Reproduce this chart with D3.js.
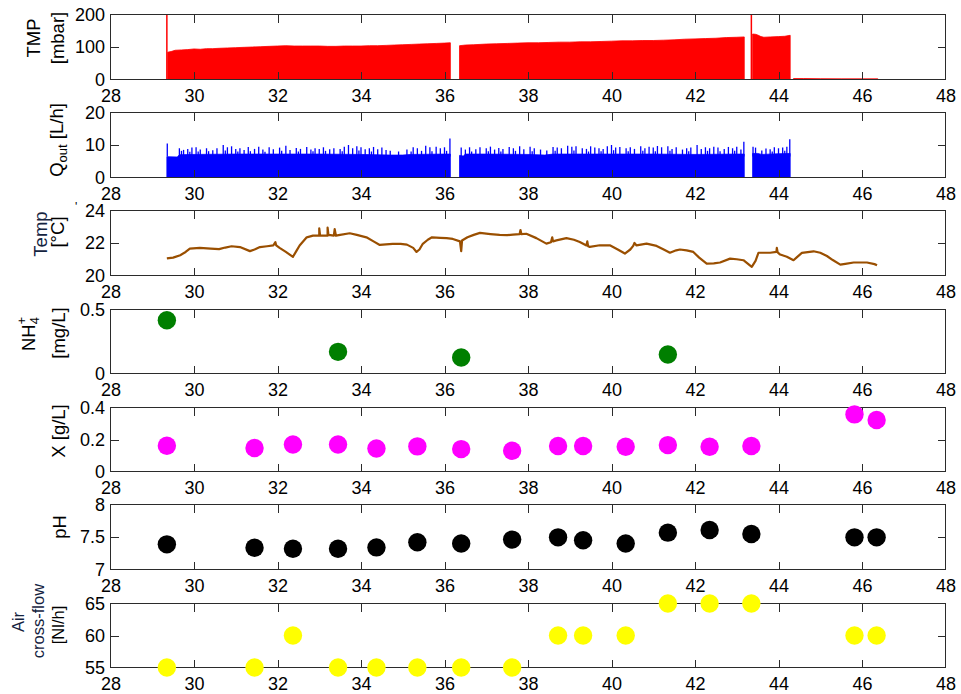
<!DOCTYPE html>
<html><head><meta charset="utf-8">
<script src="https://cdn.jsdelivr.net/npm/d3@7"></script>
<style>
body{margin:0;background:#fff}
svg{display:block;font-family:Arial,"Liberation Sans",Helvetica,sans-serif}
</style>
</head><body><svg id="c" width="961" height="694"></svg>
<script>
// ---------- data ----------
const xTicks = [28,30,32,34,36,38,40,42,44,46,48];
const xTickLabels = ["28","30","32","34","36","38","40","42","44","46","48"];

const tmpTicks = [0,100,200],   tmpTickLabels = ["0","100","200"];
const qTicks = [0,10,20],       qTickLabels = ["0","10","20"];
const tempTicks = [20,22,24],   tempTickLabels = ["20","22","24"];
const nhTicks = [0,0.5],        nhTickLabels = ["0","0.5"];
const xbTicks = [0,0.2,0.4],    xbTickLabels = ["0","0.2","0.4"];
const phTicks = [7,7.5,8],      phTickLabels = ["7","7.5","8"];
const airTicks = [55,60,65],    airTickLabels = ["55","60","65"];

// TMP [mbar]
const tmpSeg1 = [[29.37,84],[29.45,86],[29.55,90],[29.7,91],[29.85,92],[30.0,94],[30.15,93],[30.3,95],[30.45,95],[30.6,96],[30.8,97],[31.0,98],[31.2,99],[31.4,100],[31.6,101],[31.8,102],[32.0,103],[32.2,104],[32.4,103],[32.6,103],[32.8,103],[33.0,103],[33.2,102],[33.4,102],[33.6,103],[33.8,103],[34.0,103],[34.2,104],[34.4,104],[34.6,105],[34.8,106],[35.0,107],[35.2,108],[35.4,109],[35.6,110],[35.8,111],[36.0,112],[36.14,113]];
const tmpSeg2 = [[36.36,104],[36.5,106],[36.7,107],[37.0,109],[37.25,110],[37.5,111],[37.75,112],[38.0,113],[38.25,113],[38.5,114],[38.75,115],[39.0,115],[39.25,116],[39.5,116],[39.75,117],[40.0,118],[40.25,119],[40.5,119],[40.75,120],[41.0,120],[41.25,121],[41.5,122],[41.75,124],[42.0,125],[42.25,126],[42.5,127],[42.75,129],[43.0,130],[43.18,131]];
const tmpSeg3 = [[43.38,140],[43.45,139],[43.5,137],[43.58,132],[43.65,130],[43.8,131],[44.0,132],[44.15,133],[44.28,136]];
const tmpSeg4 = [[44.36,3],[44.6,3],[45.0,2.5],[45.5,2],[46.0,2],[46.38,2]];
const tmpSpikes = [[29.35,200],[43.35,200]];

// Q_out [L/h]
const qBase1 = [[29.35,6.4],[29.6,6.3],[29.65,7.0],[30.0,7.1],[31.0,7.2],[32.0,7.2],[33.0,7.2],[34.0,7.1],[34.7,6.9],[35.0,6.9],[35.2,7.1],[36.0,7.2],[36.14,7.2]];
const qBase2 = [[36.36,6.8],[36.45,6.6],[36.5,7.2],[37.0,7.2],[38.0,7.1],[38.4,6.9],[38.6,7.2],[40.0,7.2],[41.0,7.2],[42.0,7.1],[43.0,7.2],[43.18,7.2]];
const qBase3 = [[43.38,7.4],[43.5,7.4],[43.6,7.1],[44.0,7.3],[44.28,7.4]];
const qSpikes = [[29.36,10.5],[29.65,9.0],[29.7,8.2],[29.75,8.5],[29.85,8.8],[29.9,7.9],[29.95,9.2],[30.05,9.3],[30.1,8.0],[30.15,8.6],[30.3,9.0],[30.35,8.1],[30.45,8.4],[30.55,9.0],[30.7,10.0],[30.75,8.3],[30.8,9.3],[30.9,9.6],[31.0,8.8],[31.05,8.0],[31.1,9.0],[31.2,8.5],[31.3,9.4],[31.35,8.1],[31.45,8.8],[31.55,9.5],[31.65,8.6],[31.7,7.9],[31.8,9.3],[31.9,8.7],[32.05,9.2],[32.1,8.2],[32.2,9.8],[32.3,8.5],[32.45,9.1],[32.5,8.0],[32.55,8.8],[32.7,9.4],[32.8,8.6],[32.85,8.1],[32.9,9.0],[33.0,8.8],[33.1,9.3],[33.15,8.2],[33.25,8.7],[33.35,9.0],[33.5,8.8],[33.55,8.1],[33.6,9.5],[33.7,10.0],[33.8,9.0],[33.9,9.6],[33.95,8.3],[34.0,9.3],[34.1,8.7],[34.2,9.0],[34.25,8.0],[34.3,9.4],[34.4,8.7],[34.5,9.2],[34.6,8.5],[34.7,8.2],[34.9,8.0],[35.1,8.6],[35.2,8.0],[35.25,9.3],[35.35,9.0],[35.45,8.2],[35.55,9.8],[35.65,9.3],[35.7,8.1],[35.8,9.5],[35.9,9.0],[36.0,9.3],[36.05,8.2],[36.13,12.0],
  [36.4,9.2],[36.5,8.6],[36.6,9.3],[36.65,8.0],[36.75,8.7],[36.85,9.3],[37.0,9.0],[37.05,8.1],[37.1,9.5],[37.2,8.6],[37.3,9.1],[37.35,8.0],[37.4,8.8],[37.55,9.4],[37.65,9.0],[37.7,8.2],[37.8,9.6],[37.9,8.7],[38.05,9.5],[38.1,8.1],[38.15,9.0],[38.3,8.6],[38.45,8.3],[38.6,9.4],[38.65,8.2],[38.7,9.2],[38.8,9.0],[38.95,9.8],[39.05,9.5],[39.1,8.3],[39.15,9.6],[39.3,9.0],[39.4,8.8],[39.45,8.0],[39.5,9.6],[39.6,9.2],[39.7,9.0],[39.75,8.1],[39.8,8.8],[39.9,9.6],[40.0,10.0],[40.05,8.4],[40.1,9.2],[40.2,9.4],[40.35,9.0],[40.4,8.1],[40.45,9.3],[40.55,8.8],[40.7,9.6],[40.75,8.2],[40.8,9.0],[40.9,9.5],[41.0,9.2],[41.05,8.1],[41.1,9.7],[41.2,9.3],[41.35,9.6],[41.4,8.2],[41.45,8.8],[41.55,9.3],[41.7,8.6],[41.8,9.0],[41.85,8.1],[41.9,9.2],[42.05,10.0],[42.15,8.8],[42.25,9.3],[42.3,8.2],[42.35,9.0],[42.45,9.5],[42.55,9.2],[42.6,8.1],[42.7,8.8],[42.8,9.4],[42.9,9.0],[42.95,8.2],[43.0,9.5],[43.1,8.6],[43.17,11.0],
  [43.39,9.5],[43.45,9.2],[43.6,8.3],[43.7,8.9],[43.8,8.7],[43.85,8.0],[43.9,9.3],[44.0,9.0],[44.1,9.2],[44.15,8.2],[44.2,9.5],[44.27,11.8]];

// Temp [°C]
const tempData = [[29.35,21.05],[29.5,21.1],[29.67,21.25],[29.8,21.45],[29.9,21.65],[30.14,21.7],[30.4,21.65],[30.6,21.62],[30.75,21.72],[30.9,21.8],[31.1,21.75],[31.34,21.5],[31.45,21.6],[31.58,21.75],[31.75,21.8],[31.9,21.85],[31.95,22.05],[31.97,21.85],[32.05,21.7],[32.2,21.45],[32.37,21.15],[32.45,21.5],[32.53,21.85],[32.7,22.35],[32.85,22.45],[33.0,22.45],[33.0,22.9],[33.02,22.45],[33.2,22.45],[33.2,22.95],[33.22,22.5],[33.35,22.45],[33.37,22.85],[33.4,22.45],[33.5,22.5],[33.73,22.6],[33.9,22.5],[34.13,22.35],[34.3,22.1],[34.45,21.88],[34.6,21.92],[34.76,21.95],[34.95,21.95],[35.1,21.9],[35.25,21.7],[35.33,21.45],[35.4,21.6],[35.48,21.95],[35.6,22.2],[35.7,22.35],[35.9,22.32],[36.05,22.3],[36.2,22.25],[36.37,22.1],[36.4,21.5],[36.42,22.15],[36.55,22.35],[36.7,22.5],[36.85,22.62],[37.1,22.55],[37.32,22.5],[37.5,22.48],[37.64,22.52],[37.8,22.55],[37.82,22.8],[37.84,22.55],[37.96,22.57],[38.2,22.3],[38.44,21.96],[38.55,22.05],[38.58,22.35],[38.6,22.1],[38.68,22.16],[38.92,22.3],[39.1,22.2],[39.24,22.06],[39.4,21.85],[39.42,22.1],[39.44,21.8],[39.48,21.76],[39.72,21.86],[39.96,21.86],[40.15,21.6],[40.32,21.35],[40.45,21.6],[40.52,21.82],[40.55,22.0],[40.6,21.85],[40.84,21.96],[41.08,21.82],[41.25,21.6],[41.4,21.4],[41.55,21.55],[41.64,21.6],[41.8,21.55],[41.96,21.45],[42.1,21.1],[42.28,20.73],[42.45,20.75],[42.6,20.8],[42.84,21.04],[43.0,21.0],[43.16,20.94],[43.3,20.65],[43.36,20.53],[43.45,20.9],[43.52,21.4],[43.8,21.4],[43.95,21.45],[43.96,21.7],[43.98,21.42],[44.04,21.29],[44.2,21.15],[44.36,20.94],[44.45,21.15],[44.56,21.39],[44.84,21.49],[45.0,21.4],[45.16,21.2],[45.3,20.95],[45.48,20.67],[45.6,20.72],[45.8,20.8],[46.12,20.8],[46.3,20.7],[46.36,20.63]];

// sampling days
const nhDays = [29.35,33.45,36.4,41.35];
const nhVals = [0.416,0.169,0.125,0.148];
const xbDays = [29.35,31.45,32.37,33.45,34.37,35.35,36.4,37.62,38.72,39.32,40.34,41.35,42.35,43.35,45.82,46.35];
const xbVals = [0.161,0.147,0.169,0.169,0.144,0.157,0.140,0.130,0.159,0.159,0.155,0.165,0.155,0.159,0.357,0.322];
const phDays = [29.35,31.45,32.37,33.45,34.37,35.35,36.4,37.62,38.72,39.32,40.34,41.35,42.35,43.35,45.82,46.35];
const phVals = [7.387,7.334,7.32,7.32,7.34,7.42,7.40,7.46,7.495,7.45,7.40,7.567,7.608,7.546,7.495,7.495];
const airDays = [29.35,31.45,32.37,33.45,34.37,35.35,36.4,37.62,38.72,39.32,40.34,41.35,42.35,43.35,45.82,46.35];
const airVals = [55,55,60,55,55,55,55,55,60,60,60,65,65,65,60,60];

// ---------- layout ----------
const svg = d3.select("#c");
const left = 110.5, right = 945.5;
const tops = [14.5,112.5,210.5,309.5,407.5,504.5,603.5];
const bots = [79.5,177.5,275.5,373.5,471.5,569.5,667.5];
const FS = 18;     // tick labels
const LS = 18.5;   // axis labels
const x = d3.scaleLinear().domain([28,48]).range([left,right]);

const panels = [
  {dom:[0,200],  ticks:tmpTicks,  labels:tmpTickLabels},
  {dom:[0,20],   ticks:qTicks,    labels:qTickLabels},
  {dom:[20,24],  ticks:tempTicks, labels:tempTickLabels},
  {dom:[0,0.5],  ticks:nhTicks,   labels:nhTickLabels},
  {dom:[0,0.4],  ticks:xbTicks,   labels:xbTickLabels},
  {dom:[7,8],    ticks:phTicks,   labels:phTickLabels},
  {dom:[55,65],  ticks:airTicks,  labels:airTickLabels}
];
const ys = panels.map((p,i)=>d3.scaleLinear().domain(p.dom).range([bots[i],tops[i]]));

const gData = svg.append("g");
const gAxes = svg.append("g");
const gMarks = svg.append("g");

// ---------- data drawing ----------
const yT = ys[0];
const tmpArea = d3.area().x(d=>x(d[0])).y0(yT(0)).y1(d=>yT(d[1]));
[tmpSeg1,tmpSeg2,tmpSeg3,tmpSeg4].forEach(seg=>{
  gData.append("path").attr("d",tmpArea(seg)).attr("fill","#ff0000").attr("stroke","#ff0000").attr("stroke-width",0.8);
});
gData.selectAll(".tspk").data(tmpSpikes).join("line")
  .attr("x1",d=>x(d[0])).attr("x2",d=>x(d[0])).attr("y1",yT(0)).attr("y2",d=>yT(d[1]))
  .attr("stroke","#ff0000").attr("stroke-width",1.5);

const yQ = ys[1];
const qArea = d3.area().x(d=>x(d[0])).y0(yQ(0)).y1(d=>yQ(d[1]));
[qBase1,qBase2,qBase3].forEach(seg=>{
  gData.append("path").attr("d",qArea(seg)).attr("fill","#0000ff").attr("stroke","#0000ff").attr("stroke-width",0.8);
});
gData.selectAll(".qspk").data(qSpikes).join("line")
  .attr("x1",d=>x(d[0])).attr("x2",d=>x(d[0])).attr("y1",yQ(6.5)).attr("y2",d=>yQ(d[1]))
  .attr("stroke","#0000ff").attr("stroke-width",1.3);

const yTe = ys[2];
gData.append("path").attr("d",d3.line().x(d=>x(d[0])).y(d=>yTe(d[1]))(tempData))
  .attr("fill","none").attr("stroke","#9a4f00").attr("stroke-width",2.2).attr("stroke-linejoin","round");

// ---------- axes ----------
panels.forEach((p,i)=>{
  const y = ys[i];
  const g = gAxes.append("g");
  g.append("rect").attr("x",left).attr("y",tops[i]).attr("width",right-left).attr("height",bots[i]-tops[i])
    .attr("fill","none").attr("stroke","#2b2b2b").attr("stroke-width",1).attr("shape-rendering","crispEdges");
  const inner = xTicks.slice(1,-1);
  const ab = d3.axisBottom(x).tickValues(xTicks).tickFormat((d,k)=>xTickLabels[k]).tickSizeInner(-8).tickSizeOuter(0).tickPadding(9.3);
  const gb = g.append("g").attr("transform",`translate(0,${bots[i]})`).call(ab);
  const at = d3.axisTop(x).tickValues(inner).tickFormat("").tickSizeInner(-8).tickSizeOuter(0);
  const gt = g.append("g").attr("transform",`translate(0,${tops[i]})`).call(at);
  const yin = p.ticks.filter(t=>t!==p.dom[0] && t!==p.dom[1]);
  const al = d3.axisLeft(y).tickValues(p.ticks).tickFormat((d,k)=>p.labels[k]).tickSizeInner(-8).tickSizeOuter(0).tickPadding(5.5);
  const gl = g.append("g").attr("transform",`translate(${left},0)`).call(al);
  const ar = d3.axisRight(y).tickValues(yin).tickFormat("").tickSizeInner(-8).tickSizeOuter(0);
  const gr = g.append("g").attr("transform",`translate(${right},0)`).call(ar);
  [gb,gt,gl,gr].forEach(a=>{
    a.select(".domain").remove();
    a.selectAll("line").attr("stroke","#2b2b2b").attr("shape-rendering","crispEdges");
    a.selectAll("text").attr("fill","#000").style("font-size",FS+"px").style("font-family",'Arial,"Liberation Sans",sans-serif');
  });
  gl.selectAll(".tick").filter(d=>d===p.dom[0]||d===p.dom[1]).select("line").remove();
  gb.selectAll(".tick").filter(d=>d===28||d===48).select("line").remove();
});

// ---------- markers ----------
const R = 9.2;
function dots(days, vals, y, color){
  gMarks.append("g").selectAll("circle").data(days.map((d,k)=>[d,vals[k]])).join("circle")
    .attr("cx",d=>x(d[0])).attr("cy",d=>y(d[1])).attr("r",R).attr("fill",color);
}
dots(nhDays, nhVals, ys[3], "#007f00");
dots(xbDays, xbVals, ys[4], "#ff00ff");
dots(phDays, phVals, ys[5], "#000000");
dots(airDays, airVals, ys[6], "#ffff00");

// ---------- y labels ----------
function vlabel(xb, yc, fs, color){
  return svg.append("text").attr("transform",`translate(${xb},${yc}) rotate(-90)`)
    .attr("text-anchor","middle").style("font-size",fs+"px").attr("fill",color);
}
vlabel(40,38,LS,"#000").text("TMP");
vlabel(63.5,38,LS,"#000").text("[mbar]");
{ const t = vlabel(63,140,LS,"#000");
  t.append("tspan").text("Q");
  t.append("tspan").attr("dy",4).style("font-size","13px").text("out");
  t.append("tspan").attr("dy",-4).text(" [L/h]"); }
vlabel(47,234,LS,"#14233f").text("Temp");
vlabel(63.5,232,LS,"#000").text("[°C]");
svg.append("text").attr("x",75).attr("y",211).style("font-size","12px").attr("fill","#000").text("'");
{ const t = vlabel(35,334,LS,"#000");
  t.append("tspan").text("NH");
  t.append("tspan").attr("dy",4).style("font-size","13px").text("4");
  t.append("tspan").attr("dx",-7.5).attr("dy",-13).style("font-size","13px").text("+"); }
vlabel(65,333,LS,"#000").text("[mg/L]");
vlabel(65,431,LS,"#000").text("X [g/L]");
vlabel(66,527,LS,"#000").text("pH");
vlabel(24,622,16.5,"#14233f").text("Air");
vlabel(44,621,16.5,"#14233f").text("cross-flow");
vlabel(63.5,625,16.5,"#000").text("[Nl/h]");
</script>
</body></html>
